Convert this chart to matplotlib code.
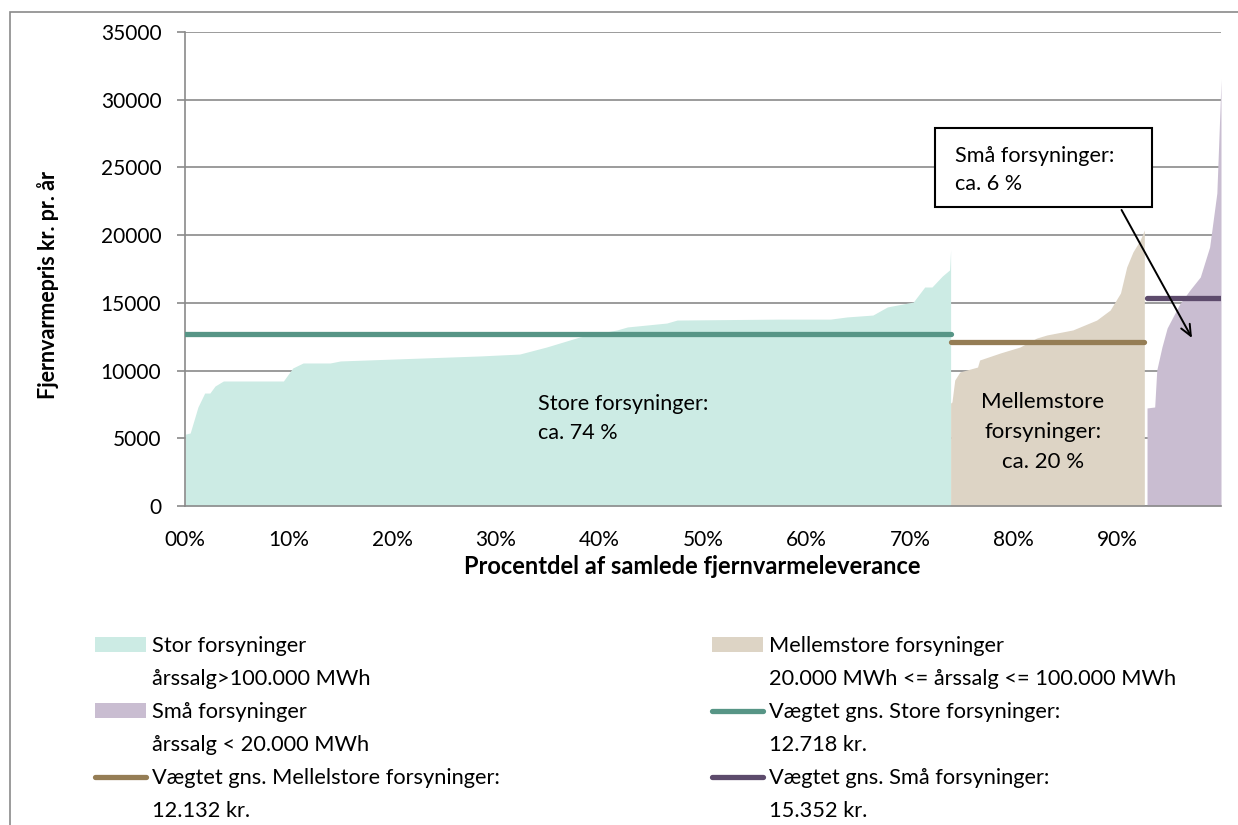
import matplotlib
matplotlib.use("Agg")
import matplotlib.pyplot as plt
from matplotlib.patches import Rectangle, Patch
from matplotlib.lines import Line2D

plt.rcParams['font.family'] = ['Lato', 'DejaVu Sans']

# ---------------- data ----------------
store_share = [0.000, 0.005, 0.0125, 0.019, 0.024, 0.029, 0.037, 0.095, 0.104, 0.114,
               0.140, 0.150, 0.285, 0.323, 0.349, 0.381, 0.417, 0.427, 0.465, 0.475,
               0.574, 0.623, 0.639, 0.664, 0.678, 0.703, 0.714, 0.721, 0.731, 0.738, 0.739]
store_price = [5300, 5390, 7310, 8340, 8340, 8860, 9230, 9230, 10190, 10560,
               10560, 10710, 11080, 11220, 11740, 12480, 13000, 13220, 13510, 13730,
               13800, 13800, 13960, 14100, 14700, 15060, 16170, 16170, 16980, 17430, 18900]

medium_share = [0.739, 0.7403, 0.743, 0.748, 0.765, 0.767, 0.787, 0.806, 0.822, 0.832,
                0.857, 0.880, 0.893, 0.903, 0.909, 0.915, 0.922, 0.926]
medium_price = [7600, 7680, 9300, 9900, 10260, 10780, 11300, 11740, 12400, 12630,
                13000, 13730, 14470, 15730, 17650, 18760, 19640, 20380]

small_share = [0.9286, 0.936, 0.938, 0.943, 0.948, 0.960, 0.970, 0.980, 0.989, 0.996, 0.999, 1.000]
small_price = [7240, 7310, 10040, 11740, 13140, 14900, 15950, 16910, 19120, 23110, 29240, 31500]

avg_store = 12718
avg_medium = 12132
avg_small = 15352

y_ticks = [0, 5000, 10000, 15000, 20000, 25000, 30000, 35000]
x_ticks = [0.0, 0.1, 0.2, 0.3, 0.4, 0.5, 0.6, 0.7, 0.8, 0.9]
x_tick_labels = ["00%", "10%", "20%", "30%", "40%", "50%", "60%", "70%", "80%", "90%"]

# ---------------- style ----------------
c_store_fill = "#CCEBE4"
c_medium_fill = "#DDD4C5"
c_small_fill = "#C9BDD1"
c_store_line = "#579586"
c_medium_line = "#957D55"
c_small_line = "#5D4B6C"
c_grid = "#8A8A8A"
FS = 15
FS_TXT = 15.6
FS_LEG = 15.7

W, H = 1238, 825
fig = plt.figure(figsize=(W / 100, H / 100), dpi=100)
ax = fig.add_axes([185 / W, 1 - 506 / H, 1036 / W, 474 / H])

# figure frame
fig.patches.append(Rectangle((10 / W, -1), 5, 2 - 12 / H, transform=fig.transFigure,
                             fill=False, ec=c_grid, lw=1.2))

ax.fill_between(store_share, store_price, 0, color=c_store_fill, lw=0, zorder=2)
ax.fill_between(medium_share, medium_price, 0, color=c_medium_fill, lw=0, zorder=2)
ax.fill_between(small_share, small_price, 0, color=c_small_fill, lw=0, zorder=2)

lw_avg = 3.8
ax.plot([store_share[0], store_share[-1]], [avg_store] * 2, color=c_store_line,
        lw=lw_avg, solid_capstyle='round', zorder=3)
ax.plot([medium_share[0], medium_share[-1]], [avg_medium] * 2, color=c_medium_line,
        lw=lw_avg, solid_capstyle='round', zorder=3)
ax.plot([small_share[0], small_share[-1]], [avg_small] * 2, color=c_small_line,
        lw=lw_avg, solid_capstyle='round', zorder=3)

ax.set_xlim(0, 1)
ax.set_ylim(0, 35000)
ax.set_yticks(y_ticks)
ax.set_yticklabels([str(v) for v in y_ticks])
ax.set_xticks(x_ticks)
ax.set_xticklabels(x_tick_labels)
ax.tick_params(axis='y', length=6, width=1.2, color=c_grid, labelsize=FS, pad=11)
ax.tick_params(axis='x', length=0, labelsize=FS, pad=17)
ax.grid(axis='y', color=c_grid, lw=1.2)
ax.set_axisbelow(True)
for s in ['top', 'right']:
    ax.spines[s].set_visible(False)
for s in ['left', 'bottom']:
    ax.spines[s].set_color(c_grid)
    ax.spines[s].set_linewidth(1.2)

ax.set_xlabel("Procentdel af samlede fjernvarmeleverance", fontsize=17, fontweight='bold')
ax.xaxis.set_label_coords((692 - 185) / 1036, -(566 - 506) / 474)
ax.xaxis.label.set_va('center')
ax.set_ylabel("Fjernvarmepris kr. pr. år", fontsize=15.5, fontweight='bold')
ax.yaxis.set_label_coords(-(185 - 48) / 1036, (506 - 285) / 474)
ax.yaxis.label.set_va('center')

# annotations
ax.text(0.341, 6460, "Store forsyninger:\nca. 74 %", fontsize=FS_TXT, ha='left', va='center',
        linespacing=1.55, zorder=5)
ax.text(0.828, 5460, "Mellemstore\nforsyninger:\nca. 20 %", fontsize=16, ha='center',
        va='center', multialignment='center', linespacing=1.6, zorder=5)
ax.add_patch(Rectangle((0.724, 22080), 0.209, 5830, fc='white', ec='black', lw=1.5, zorder=6))
ax.text(0.743, 24810, "Små forsyninger:\nca. 6 %", fontsize=FS_TXT, ha='left', va='center',
        linespacing=1.45, zorder=7)
ax.annotate('', xy=(0.972, 12405), xytext=(0.904, 21860),
            arrowprops=dict(arrowstyle='->,head_length=0.8,head_width=0.35', color='black',
                            lw=1.4, shrinkA=0, shrinkB=0), zorder=7)


def kr(v):
    return f"{v:,}".replace(",", ".") + " kr."


blank = Patch(fc='none', ec='none')
h_store = Patch(fc=c_store_fill, ec='none')
h_medium = Patch(fc=c_medium_fill, ec='none')
h_small = Patch(fc=c_small_fill, ec='none')
l_store = Line2D([], [], color=c_store_line, lw=lw_avg, solid_capstyle='round')
l_medium = Line2D([], [], color=c_medium_line, lw=lw_avg, solid_capstyle='round')
l_small = Line2D([], [], color=c_small_line, lw=lw_avg, solid_capstyle='round')

col1_h = [h_store, blank, h_small, blank, l_medium, blank]
col1_l = ["Stor forsyninger", "årssalg>100.000 MWh", "Små forsyninger",
          "årssalg < 20.000 MWh", "Vægtet gns. Mellelstore forsyninger:", kr(avg_medium)]
col2_h = [h_medium, blank, l_store, blank, l_small, blank]
col2_l = ["Mellemstore forsyninger", "20.000 MWh <= årssalg <= 100.000 MWh",
          "Vægtet gns. Store forsyninger:", kr(avg_store),
          "Vægtet gns. Små forsyninger:", kr(avg_small)]

leg_kw = dict(loc='upper left', frameon=False, fontsize=FS_LEG, borderpad=0, borderaxespad=0,
              handlelength=2.34, handleheight=0.64, handletextpad=0.27, labelspacing=0.6)
fig.legend(col1_h, col1_l, bbox_to_anchor=(95 / W, 1 - 636 / H), **leg_kw)
fig.legend(col2_h, col2_l, bbox_to_anchor=(712 / W, 1 - 636 / H), **leg_kw)

fig.savefig("out.png", dpi=100)
